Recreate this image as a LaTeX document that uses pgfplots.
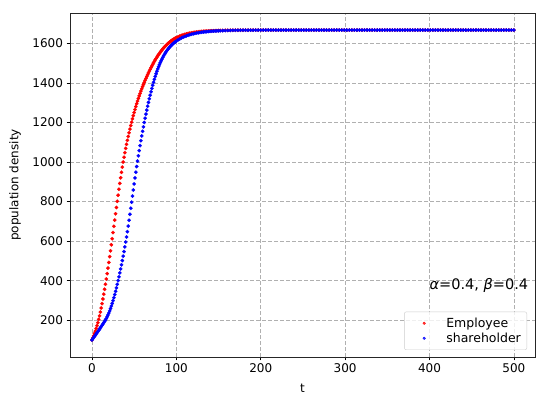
\documentclass[border=0pt]{standalone}
\usepackage{pgfplots}
\pgfplotsset{compat=1.18}
\usepackage{fontspec}
\setmainfont{DejaVu Sans}
\begin{document}
\begin{tikzpicture}
\begin{axis}[
  name=ax,
  scale only axis,
  width=465pt, height=344pt,
  xmin=-26, xmax=525, ymin=14, ymax=1753,
  xtick={0,100,...,500},
  ytick={200,400,...,1600},
  tick pos=left, tick align=outside,
  major tick length=3.5pt,
  every tick/.style={black, line width=0.6pt},
  grid=major,
  major grid style={dash pattern=on 4pt off 2pt, color=black!31, line width=0.6pt},
  axis line style={line width=0.7pt, color=black!85},
  ticklabel style={font=\fontsize{12}{14}\selectfont},
  /pgf/number format/assume math mode=true,
  /pgf/number format/1000 sep={},
  xlabel={t}, ylabel={population density},
  label style={font=\fontsize{12}{14}\selectfont},
  xlabel style={at={(axis description cs:0.5,-0.09)}, anchor=center},
  ylabel style={at={(axis description cs:-0.118,0.5)}, anchor=center},
  legend style={at={(1,0)}, anchor=south east, xshift=-8pt, yshift=7pt,
    draw=black!20, fill=white, fill opacity=0.8, text opacity=1,
    rounded corners=2pt, font=\fontsize{12.5}{15}\selectfont,
    inner xsep=4pt, inner ysep=4pt},
  legend cell align=left,
  legend image code/.code={\path (-0.55cm,0) (0.7cm,0); \draw[#1,mark size=1.4pt] plot coordinates {(0cm,0cm)};},
]
\addplot[only marks, mark=*, mark size=1.75pt, color=red, mark options={draw=red, fill=red, line width=0.2pt}] coordinates {
(0,100) (1,110.3) (2,121.2) (3,132.8) (4,145.0) (5,158.1) (6,172.3) (7,187.6) (8,204.0) (9,221.8) (10,241.0) (11,261.8) (12,284.0) (13,307.4) (14,331.5) (15,356.4) (16,382.0) (17,408.4) (18,435.5) (19,463.4) (20,492.0) (21,521.3) (22,551.0) (23,581.3) (24,612.0) (25,643.1) (26,674.5) (27,706.1) (28,738.0) (29,769.8) (30,801.0) (31,831.8) (32,862.0) (33,891.5) (34,920.0) (35,947.5) (36,974.0) (37,999.5) (38,1023.8) (39,1046.8) (40,1068.5) (41,1089.2) (42,1109.3) (43,1128.8) (44,1147.7) (45,1166.0) (46,1183.8) (47,1201.0) (48,1217.8) (49,1234.0) (50,1249.8) (51,1265.0) (52,1279.8) (53,1294.0) (54,1307.8) (55,1321.0) (56,1333.8) (57,1346.2) (58,1358.2) (59,1369.8) (60,1381.0) (61,1391.8) (62,1402.2) (63,1412.3) (64,1422.1) (65,1431.7) (66,1441.1) (67,1450.3) (68,1459.3) (69,1468.1) (70,1476.7) (71,1485.1) (72,1493.2) (73,1501.1) (74,1508.7) (75,1516.1) (76,1523.2) (77,1530.1) (78,1536.7) (79,1543.1) (80,1549.2) (81,1555.1) (82,1560.8) (83,1566.2) (84,1571.4) (85,1576.4) (86,1581.2) (87,1585.8) (88,1590.2) (89,1594.3) (90,1598.2) (91,1601.9) (92,1605.5) (93,1608.9) (94,1612.1) (95,1615.2) (96,1618.1) (97,1620.9) (98,1623.5) (99,1625.9) (100,1628.2)
(102,1632.3) (104,1636.0) (106,1639.4) (108,1642.3) (110,1644.9) (112,1647.3) (114,1649.4) (116,1651.2) (118,1652.9) (120,1654.4) (122,1655.7) (124,1656.9) (126,1658.0) (128,1658.9) (130,1659.7) (132,1660.5) (134,1661.2) (136,1661.8) (138,1662.3) (140,1662.8) (142,1663.2) (144,1663.6) (146,1663.9) (148,1664.2) (150,1664.5) (152,1664.8) (155,1665.0) (158,1665.3) (161,1665.5) (164,1665.7) (167,1665.9) (170,1666.0) (173,1666.1) (176,1666.2) (179,1666.3) (182,1666.4) (185,1666.4) (188,1666.5) (191,1666.5) (194,1666.6) (197,1666.6) (200,1666.6)
(203,1666.7) (206,1666.7) (209,1666.7) (212,1666.7) (215,1666.7) (218,1666.7) (221,1666.7) (224,1666.7) (227,1666.7) (230,1666.7) (233,1666.7) (236,1666.7) (239,1666.7) (242,1666.7) (245,1666.7) (248,1666.7) (251,1666.7) (254,1666.7) (257,1666.7) (260,1666.7) (263,1666.7) (266,1666.7) (269,1666.7) (272,1666.7) (275,1666.7) (278,1666.7) (281,1666.7) (284,1666.7) (287,1666.7) (290,1666.7) (293,1666.7) (296,1666.7) (299,1666.7) (302,1666.7) (305,1666.7) (308,1666.7) (311,1666.7) (314,1666.7) (317,1666.7) (320,1666.7) (323,1666.7) (326,1666.7) (329,1666.7) (332,1666.7) (335,1666.7) (338,1666.7) (341,1666.7) (344,1666.7) (347,1666.7) (350,1666.7) (353,1666.7) (356,1666.7) (359,1666.7) (362,1666.7) (365,1666.7) (368,1666.7) (371,1666.7) (374,1666.7) (377,1666.7) (380,1666.7) (383,1666.7) (386,1666.7) (389,1666.7) (392,1666.7) (395,1666.7) (398,1666.7) (401,1666.7) (404,1666.7) (407,1666.7) (410,1666.7) (413,1666.7) (416,1666.7) (419,1666.7) (422,1666.7) (425,1666.7) (428,1666.7) (431,1666.7) (434,1666.7) (437,1666.7) (440,1666.7) (443,1666.7) (446,1666.7) (449,1666.7) (452,1666.7) (455,1666.7) (458,1666.7) (461,1666.7) (464,1666.7) (467,1666.7) (470,1666.7) (473,1666.7) (476,1666.7) (479,1666.7) (482,1666.7) (485,1666.7) (488,1666.7) (491,1666.7) (494,1666.7) (497,1666.7) (500,1666.7)
};
\addlegendentry{Employee}
\addplot[only marks, mark=*, mark size=1.75pt, color=blue, mark options={draw=blue, fill=blue, line width=0.2pt}] coordinates {
(0,100) (1,106.0) (2,112.1) (3,118.1) (4,124.2) (5,130.3) (6,136.4) (7,142.6) (8,148.8) (9,155.0) (10,161.4) (11,167.8) (12,174.3) (13,180.9) (14,187.6) (15,194.5) (16,201.4) (17,208.8) (18,217.1) (19,226.3) (20,236.4) (21,247.3) (22,259.0) (23,271.5) (24,284.8) (25,298.9) (26,313.8) (27,329.5) (28,346.0) (29,363.3) (30,381.4) (31,400.2) (32,419.4) (33,439.2) (34,459.4) (35,480.2) (36,501.6) (37,523.8) (38,546.8) (39,570.6) (40,595.2) (41,620.8) (42,647.7) (43,675.8) (44,705.2) (45,735.4) (46,765.9) (47,796.7) (48,827.6) (49,858.4) (50,889.0) (51,919.1) (52,948.3) (53,976.7) (54,1004.2) (55,1031.0) (56,1057.2) (57,1082.6) (58,1107.4) (59,1131.4) (60,1154.8) (61,1177.5) (62,1199.6) (63,1221.1) (64,1242.0) (65,1262.3) (66,1282.0) (67,1301.1) (68,1319.6) (69,1337.5) (70,1354.8) (71,1371.5) (72,1387.6) (73,1403.0) (74,1417.8) (75,1432.1) (76,1445.7) (77,1458.5) (78,1470.5) (79,1481.7) (80,1492.1) (81,1501.9) (82,1511.2) (83,1520.1) (84,1528.5) (85,1536.5) (86,1544.0) (87,1551.1) (88,1557.7) (89,1563.9) (90,1569.6) (91,1575.0) (92,1580.1) (93,1584.9) (94,1589.4) (95,1593.6) (96,1597.5) (97,1601.1) (98,1604.5) (99,1607.8) (100,1610.9)
(102,1616.6) (104,1621.7) (106,1626.3) (108,1630.4) (110,1634.1) (112,1637.4) (114,1640.4) (116,1643.1) (118,1645.5) (120,1647.7) (122,1649.6) (124,1651.4) (126,1652.9) (128,1654.3) (130,1655.6) (132,1656.7) (134,1657.7) (136,1658.7) (138,1659.5) (140,1660.2) (142,1660.9) (144,1661.5) (146,1662.0) (148,1662.5) (150,1662.9) (152,1663.3) (155,1663.8) (158,1664.2) (161,1664.6) (164,1664.9) (167,1665.2) (170,1665.4) (173,1665.6) (176,1665.8) (179,1665.9) (182,1666.0) (185,1666.1) (188,1666.2) (191,1666.3) (194,1666.3) (197,1666.4) (200,1666.4)
(203,1666.7) (206,1666.7) (209,1666.7) (212,1666.7) (215,1666.7) (218,1666.7) (221,1666.7) (224,1666.7) (227,1666.7) (230,1666.7) (233,1666.7) (236,1666.7) (239,1666.7) (242,1666.7) (245,1666.7) (248,1666.7) (251,1666.7) (254,1666.7) (257,1666.7) (260,1666.7) (263,1666.7) (266,1666.7) (269,1666.7) (272,1666.7) (275,1666.7) (278,1666.7) (281,1666.7) (284,1666.7) (287,1666.7) (290,1666.7) (293,1666.7) (296,1666.7) (299,1666.7) (302,1666.7) (305,1666.7) (308,1666.7) (311,1666.7) (314,1666.7) (317,1666.7) (320,1666.7) (323,1666.7) (326,1666.7) (329,1666.7) (332,1666.7) (335,1666.7) (338,1666.7) (341,1666.7) (344,1666.7) (347,1666.7) (350,1666.7) (353,1666.7) (356,1666.7) (359,1666.7) (362,1666.7) (365,1666.7) (368,1666.7) (371,1666.7) (374,1666.7) (377,1666.7) (380,1666.7) (383,1666.7) (386,1666.7) (389,1666.7) (392,1666.7) (395,1666.7) (398,1666.7) (401,1666.7) (404,1666.7) (407,1666.7) (410,1666.7) (413,1666.7) (416,1666.7) (419,1666.7) (422,1666.7) (425,1666.7) (428,1666.7) (431,1666.7) (434,1666.7) (437,1666.7) (440,1666.7) (443,1666.7) (446,1666.7) (449,1666.7) (452,1666.7) (455,1666.7) (458,1666.7) (461,1666.7) (464,1666.7) (467,1666.7) (470,1666.7) (473,1666.7) (476,1666.7) (479,1666.7) (482,1666.7) (485,1666.7) (488,1666.7) (491,1666.7) (494,1666.7) (497,1666.7) (500,1666.7)
};
\addlegendentry{shareholder}
\node[anchor=west, font=\fontsize{14.5}{17}\selectfont] at (axis cs:396,377) {\textit{α}=0.4, \textit{β}=0.4};
\end{axis}
\pgfresetboundingbox
\path ([shift={(-70pt,-48pt)}]ax.south west) rectangle ([shift={(15pt,13pt)}]ax.north east);
\end{tikzpicture}
\end{document}
